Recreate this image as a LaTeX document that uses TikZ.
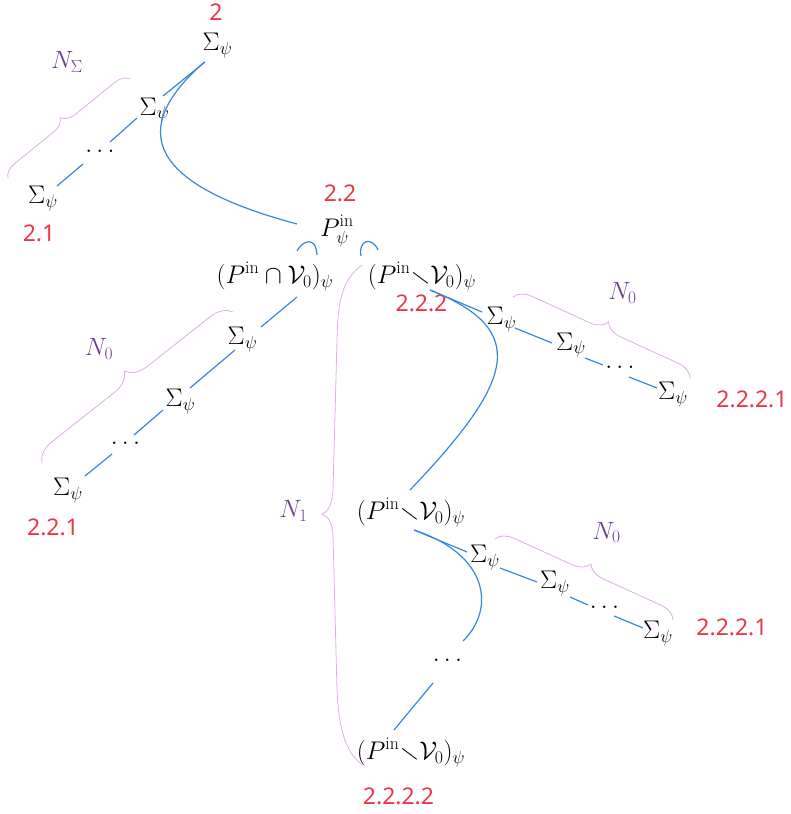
\RequirePackage{fix-cm}
\documentclass[tikz,border=0pt]{standalone}
\usepackage{amssymb}
\usepackage{fontspec}
\newfontfamily\labfont{Noto Sans}
\usetikzlibrary{decorations.pathreplacing,calc}
\definecolor{edgeblue}{RGB}{56,134,222}
\definecolor{labred}{RGB}{232,56,72}
\definecolor{npurple}{RGB}{108,62,146}
\definecolor{bracepink}{RGB}{224,172,232}
\tikzset{
  mterm/.style={inner sep=0pt, font=\fontsize{25.5}{30}\selectfont},
  lab/.style={inner sep=0pt, text=labred, font=\labfont\fontsize{23}{28}\selectfont},
  cnt/.style={inner sep=0pt, text=npurple, font=\fontsize{25}{30}\selectfont},
  link/.style={draw=edgeblue, line width=1.2pt},
  bracepath/.style={draw=bracepink, line width=0.8pt},
  curly/.style={bracepath, decorate, decoration={brace, amplitude=#1}},
}
\begin{document}
\begin{tikzpicture}[x=1pt,y=-1pt]
\useasboundingbox (0,0) rectangle (790,814);
% top chain
\node[lab] (l2) at (216,12) {2};
\node[mterm] (s1) at (217.5,45.5) {$\Sigma_\psi$};
\node[mterm] (s2) at (154.5,110) {$\Sigma_\psi$};
\node[mterm] (d1) at (100,151) {$\dots$};
\node[mterm] (s3) at (43,198.5) {$\Sigma_\psi$};
\node[lab] (l21) at (39,233.5) {2.1};
\node[cnt] (nsig) at (67,62) {$N_\Sigma$};
% P node
\node[lab] (l22) at (340,193.5) {2.2};
\node[mterm] (P) at (337,231) {$P_\psi^{\mathrm{in}}$};
\node[mterm] (pc) at (275,276.5) {$(P^{\mathrm{in}}\cap\mathcal{V}_0)_\psi$};
\node[mterm] (pv1) at (422,276.5) {$(P^{\mathrm{in}}{\smallsetminus}\mathcal{V}_0)_\psi$};
\node[lab] (l222) at (421.5,303.5) {2.2.2};
% left chain
\node[mterm] (sa) at (242.5,339.5) {$\Sigma_\psi$};
\node[mterm] (sb) at (180.5,401.5) {$\Sigma_\psi$};
\node[mterm] (d2) at (125.5,443.5) {$\dots$};
\node[mterm] (sc) at (68,490.5) {$\Sigma_\psi$};
\node[cnt] (nl0) at (99,349) {$N_0$};
\node[lab] (l221) at (53,527.5) {2.2.1};
% right chain 1
\node[mterm] (ra) at (501.5,319.5) {$\Sigma_\psi$};
\node[mterm] (rb) at (571,345) {$\Sigma_\psi$};
\node[mterm] (rd) at (620,367) {$\dots$};
\node[mterm] (rc) at (673,394.5) {$\Sigma_\psi$};
\node[cnt] (nr0) at (622.5,293) {$N_0$};
\node[lab] (l2221) at (752,399) {2.2.2.1};
% vertical chain
\node[cnt] (n1) at (293.5,511) {$N_1$};
\node[mterm] (pv2) at (411,512.5) {$(P^{\mathrm{in}}{\smallsetminus}\mathcal{V}_0)_\psi$};
\node[mterm] (ra2) at (485,557.5) {$\Sigma_\psi$};
\node[mterm] (rb2) at (555,583.5) {$\Sigma_\psi$};
\node[mterm] (rd2) at (604.5,607) {$\dots$};
\node[mterm] (rc2) at (658,633.5) {$\Sigma_\psi$};
\node[cnt] (nr0b) at (606.5,532.5) {$N_0$};
\node[lab] (l2221b) at (732,627.5) {2.2.2.1};
\node[mterm] (dv) at (447.5,660.5) {$\dots$};
\node[mterm] (pv3) at (411,752.5) {$(P^{\mathrm{in}}{\smallsetminus}\mathcal{V}_0)_\psi$};
\node[lab] (l2222) at (398.5,796.5) {2.2.2.2};

% connectors
\draw[link] ($(s1)+(-12.5,16.5)$) -- ($(s2)+(8.5,-14)$);
\draw[link] ($(s2)+(-17.5,8)$) -- ($(d1)+(10,-9)$);
\draw[link] ($(d1)+(-17,13)$) -- ($(s3)+(14,-12.5)$);
\draw[link] ($(s1)+(-13,16.5)$) .. controls (115,140) and (170,190) .. ($(P)+(-40,-7)$);
\draw[link] ($(pc)+(22,-25.5)$) .. controls (302,241) and (316,235) .. ($(P)+(-20,24)$);
\draw[link] ($(P)+(24,25)$) .. controls (358,240) and (372,236) .. ($(pv1)+(-44,-26.5)$);
\draw[link] ($(pc)+(22,20.5)$) -- ($(sa)+(18.5,-12.5)$);
\draw[link] ($(sa)+(-7.5,10.5)$) -- ($(sb)+(9.5,-13.5)$);
\draw[link] ($(sb)+(-17.5,8.5)$) -- ($(d2)+(8.5,-8.5)$);
\draw[link] ($(d2)+(-13.5,10.5)$) -- ($(sc)+(17,-14.5)$);
\draw[link] ($(pv1)+(8,13.5)$) -- ($(ra)+(-19.5,-7.5)$);
\draw[link] ($(pv1)+(8,13.5)$) .. controls (530,330) and (515,380) .. ($(pv2)+(-1,-22.5)$);
\draw[link] ($(ra)+(13.5,8.5)$) -- ($(rb)+(-19,-2)$);
\draw[link] ($(rb)+(14,13)$) -- ($(rd)+(-17,-2)$);
\draw[link] ($(rd)+(9,10)$) -- ($(rc)+(-16,-6.5)$);
\draw[link] ($(pv2)+(3,17.5)$) -- ($(ra2)+(-18,-5.5)$);
\draw[link] ($(pv2)+(3,17.5)$) .. controls (490,555) and (495,610) .. ($(dv)+(15.5,-19.5)$);
\draw[link] ($(ra2)+(15,10.5)$) -- ($(rb2)+(-18,-1.5)$);
\draw[link] ($(rb2)+(15,13.5)$) -- ($(rd2)+(-16.5,-2)$);
\draw[link] ($(rd2)+(9.5,9)$) -- ($(rc2)+(-15,-5.5)$);
\draw[link] ($(dv)+(-14.5,22.5)$) -- ($(pv3)+(-17,-22.5)$);

% braces
\draw[curly=14pt] (8,178) -- (130,79);
\draw[curly=21pt] (42,463) -- (233,312);
\draw[curly=17pt] (513,297) -- (690,378);
\draw[curly=17pt] (495,539) -- (673,620);
\draw[bracepath] (362,265) .. controls (342,280) and (338,300) .. (337,340)
  -- (333,490) .. controls (332,505) and (328,512) .. (322,514)
  .. controls (328,516) and (332,522) .. (333,535)
  -- (337,690) .. controls (339,735) and (348,755) .. (363,765);
\end{tikzpicture}
\end{document}
